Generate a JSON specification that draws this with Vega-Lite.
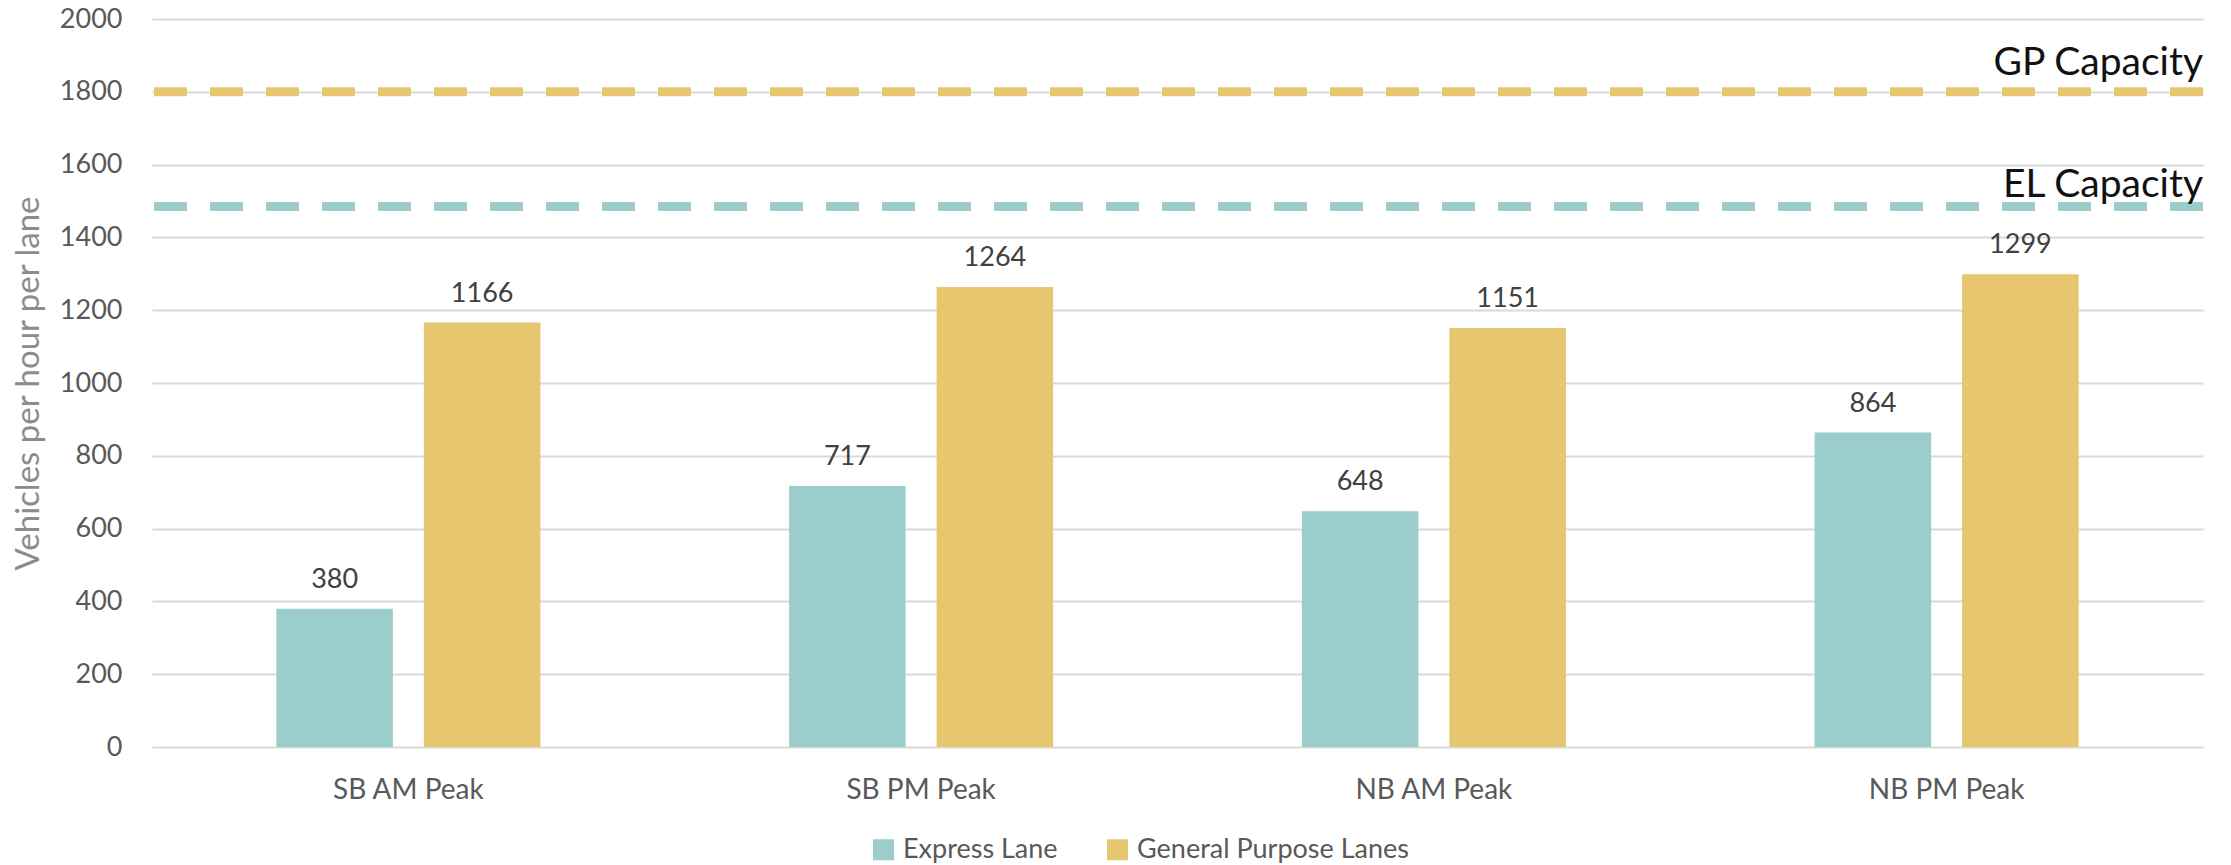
{
  "$schema": "https://vega.github.io/schema/vega-lite/v6.json",
  "autosize": {"type": "none"},
  "padding": {"left": 152, "top": 19, "right": 28, "bottom": 118},
  "width": 2051,
  "height": 728,
  "background": "#ffffff",
  "config": {
    "font": "Lato",
    "view": {"stroke": null},
    "axis": {"gridColor": "#d9d9d9", "gridWidth": 2}
  },
  "datasets": {
    "bars": [
      {"period": "SB AM Peak", "lane": "Express Lane", "value": 380},
      {"period": "SB AM Peak", "lane": "General Purpose Lanes", "value": 1166},
      {"period": "SB PM Peak", "lane": "Express Lane", "value": 717},
      {"period": "SB PM Peak", "lane": "General Purpose Lanes", "value": 1264},
      {"period": "NB AM Peak", "lane": "Express Lane", "value": 648},
      {"period": "NB AM Peak", "lane": "General Purpose Lanes", "value": 1151},
      {"period": "NB PM Peak", "lane": "Express Lane", "value": 864},
      {"period": "NB PM Peak", "lane": "General Purpose Lanes", "value": 1299}
    ],
    "capacity": [
      {"label": "GP Capacity", "lane": "General Purpose Lanes", "value": 1800},
      {"label": "EL Capacity", "lane": "Express Lane", "value": 1485}
    ]
  },
  "layer": [
    {
      "data": {"name": "bars"},
      "mark": {"type": "bar"},
      "encoding": {
        "x": {
          "field": "period", "type": "nominal", "sort": null,
          "scale": {"paddingInner": 0.485, "paddingOuter": 0.2425},
          "axis": {"title": null, "labelFontSize": 28, "labelColor": "#595959", "labelPadding": 29, "domain": false, "ticks": false, "labelAngle": 0}
        },
        "xOffset": {"field": "lane", "type": "nominal", "scale": {"paddingInner": 0.21}},
        "y": {
          "field": "value", "type": "quantitative",
          "scale": {"domain": [0, 2000], "nice": false},
          "axis": {
            "values": [0, 200, 400, 600, 800, 1000, 1200, 1400, 1600, 1800, 2000],
            "format": "d",
            "title": "Vehicles per hour per lane",
            "titleFontSize": 33, "titleFontWeight": "normal", "titleColor": "#8c8c8c", "titlePadding": 14,
            "labelFontSize": 27, "labelColor": "#595959", "labelPadding": 30,
            "domain": false, "ticks": false
          }
        },
        "color": {
          "field": "lane", "type": "nominal",
          "scale": {"domain": ["Express Lane", "General Purpose Lanes"], "range": ["#9bcdcb", "#e6c66e"]},
          "legend": {
            "title": null, "orient": "none", "legendX": 718, "legendY": 817,
            "direction": "horizontal", "symbolType": "square", "symbolSize": 441,
            "symbolStrokeWidth": 0, "labelFontSize": 27, "labelColor": "#595959",
            "labelLimit": 600, "labelOffset": 6, "columnPadding": 46
          }
        }
      }
    },
    {
      "data": {"name": "bars"},
      "mark": {"type": "text", "baseline": "alphabetic", "dy": -21, "fontSize": 27, "color": "#404040"},
      "encoding": {
        "x": {"field": "period", "type": "nominal", "sort": null},
        "xOffset": {"field": "lane", "type": "nominal"},
        "y": {"field": "value", "type": "quantitative"},
        "text": {"field": "value", "type": "quantitative"}
      }
    },
    {
      "data": {"name": "capacity"},
      "mark": {"type": "rule", "strokeWidth": 9, "strokeDash": [33, 23]},
      "encoding": {
        "y": {"field": "value", "type": "quantitative"},
        "stroke": {
          "field": "lane", "type": "nominal",
          "scale": {"domain": ["Express Lane", "General Purpose Lanes"], "range": ["#9bcdcb", "#e6c66e"]},
          "legend": null
        }
      }
    },
    {
      "data": {"name": "capacity"},
      "transform": [{"filter": "datum.label === 'GP Capacity'"}],
      "mark": {"type": "text", "align": "right", "baseline": "alphabetic", "x": {"expr": "width"}, "dy": -17, "fontSize": 39, "color": "#111111"},
      "encoding": {
        "y": {"field": "value", "type": "quantitative"},
        "text": {"field": "label", "type": "nominal"}
      }
    },
    {
      "data": {"name": "capacity"},
      "transform": [{"filter": "datum.label === 'EL Capacity'"}],
      "mark": {"type": "text", "align": "right", "baseline": "alphabetic", "x": {"expr": "width"}, "dy": -9, "fontSize": 39, "color": "#111111"},
      "encoding": {
        "y": {"field": "value", "type": "quantitative"},
        "text": {"field": "label", "type": "nominal"}
      }
    }
  ]
}
